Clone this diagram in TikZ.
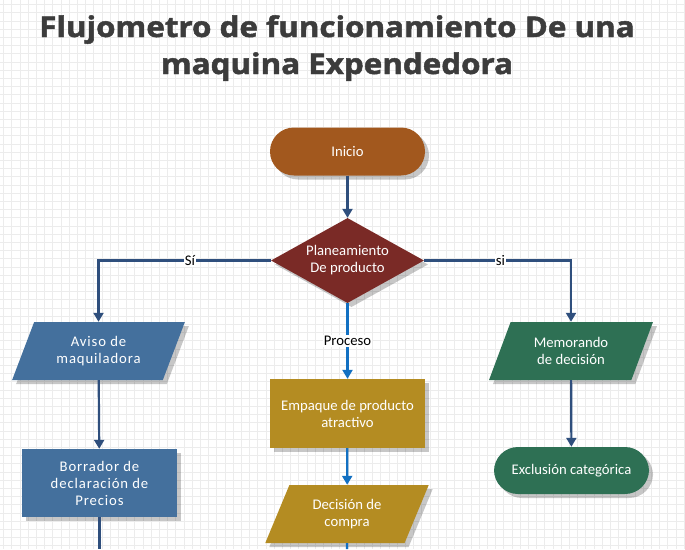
\documentclass[tikz,border=0pt]{standalone}
\usepackage{fontspec}
\setmainfont{Carlito}
\newfontfamily\titlefont[FakeBold=1.6]{Open Sans}
\usetikzlibrary{shapes.geometric,shapes.misc,arrows.meta,shadows}
\definecolor{cInicio}{RGB}{162,88,30}
\definecolor{cDiam}{RGB}{122,42,38}
\definecolor{cBlue}{RGB}{68,112,157}
\definecolor{cGreen}{RGB}{46,112,84}
\definecolor{cGold}{RGB}{180,140,34}
\definecolor{cLine}{RGB}{47,79,125}
\definecolor{cLineB}{RGB}{18,112,194}
\definecolor{cGrid}{RGB}{236,236,236}
\definecolor{cTitle}{RGB}{60,60,60}
\begin{document}
\begin{tikzpicture}[x=1pt,y=-1pt,
  shade box/.style={drop shadow={shadow xshift=4pt,shadow yshift=-4pt,fill=black,opacity=0.22}},
  base/.style={draw=none,text=white,font=\fontsize{14.7}{17}\selectfont,align=center,inner sep=0pt,shade box},
  stadium/.style={base,rectangle,rounded corners=24pt,minimum width=155pt,minimum height=48pt},
  procbox/.style={base,rectangle,minimum width=155pt,minimum height=68pt},
  iobox/.style={base,trapezium,trapezium stretches=true,trapezium left angle=64,trapezium right angle=116,minimum height=58pt},
  decbox/.style={base,diamond,aspect=1.8,minimum width=153pt,minimum height=85pt},
  conn/.style={draw=cLine,line width=2.2pt,-{Triangle[width=10pt,length=9pt]}},
  connB/.style={draw=cLineB,line width=2.2pt,-{Triangle[width=10pt,length=9pt]}},
  elabel/.style={fill=white,text=black,font=\fontsize{14.7}{17}\selectfont,inner sep=1pt},
  titletext/.style={text=cTitle,font=\titlefont\bfseries\fontsize{28.5}{34}\selectfont,inner sep=0pt}
]
\useasboundingbox (0,0) rectangle (685,549);
\fill[white] (0,0) rectangle (685,549);
\foreach \gx in {3.6,11.8,...,685} \draw[cGrid,line width=1pt] (\gx,0) -- (\gx,549);
\foreach \gy in {4.6,12.8,...,549} \draw[cGrid,line width=1pt] (0,\gy) -- (685,\gy);

\node[titletext,anchor=base] (t1) at (337,37) {\scalebox{1.1}[1]{Flujometro de funcionamiento De una}};
\node[titletext,anchor=base] (t2) at (337,74) {\scalebox{1.1}[1]{maquina Expendedora}};

\node[stadium,fill=cInicio] (inicio) at (347.5,151.5) {Inicio};
\node[decbox,fill=cDiam] (plan) at (347.5,260.5) {Planeamiento\\De producto};
\node[iobox,fill=cBlue,minimum width=173pt] (aviso) at (98.5,351) {\addfontfeatures{LetterSpace=6}Aviso de\\\addfontfeatures{LetterSpace=6}maquiladora};
\node[procbox,fill=cBlue] (borr) at (99.5,483) {\addfontfeatures{LetterSpace=6}Borrador de\\\addfontfeatures{LetterSpace=6}declaración de\\\addfontfeatures{LetterSpace=6}Precios};
\node[iobox,fill=cGreen,minimum width=164pt] (memo) at (571,351) {Memorando\\de decisión};
\node[stadium,fill=cGreen,minimum height=47pt] (excl) at (571.5,470.5) {Exclusión categórica};
\node[procbox,fill=cGold,minimum height=69pt] (emp) at (347.5,413.5) {Empaque de producto\\atractivo};
\node[iobox,fill=cGold,minimum width=164pt] (dec) at (347,514) {Decisión de\\compra};

\coordinate (lend) at (99.5,549);
\coordinate (cend) at (347,549);

\draw[conn] (inicio) -- (plan);
\draw[conn] (plan.west) -| node[elabel,pos=0.235] {Sí} (aviso.north);
\draw[conn] (plan.east) -| node[elabel,pos=0.26] {si} (memo.north);
\draw[connB] (plan.south) -- node[elabel] {Proceso} (emp.north);
\draw[connB] (emp) -- (dec);
\draw[connB,-] (dec.south) -- (cend);
\draw[conn] (aviso) -- (borr);
\draw[conn,-] (borr.south) -- (lend);
\draw[conn] (memo) -- (excl);
\end{tikzpicture}
\end{document}
